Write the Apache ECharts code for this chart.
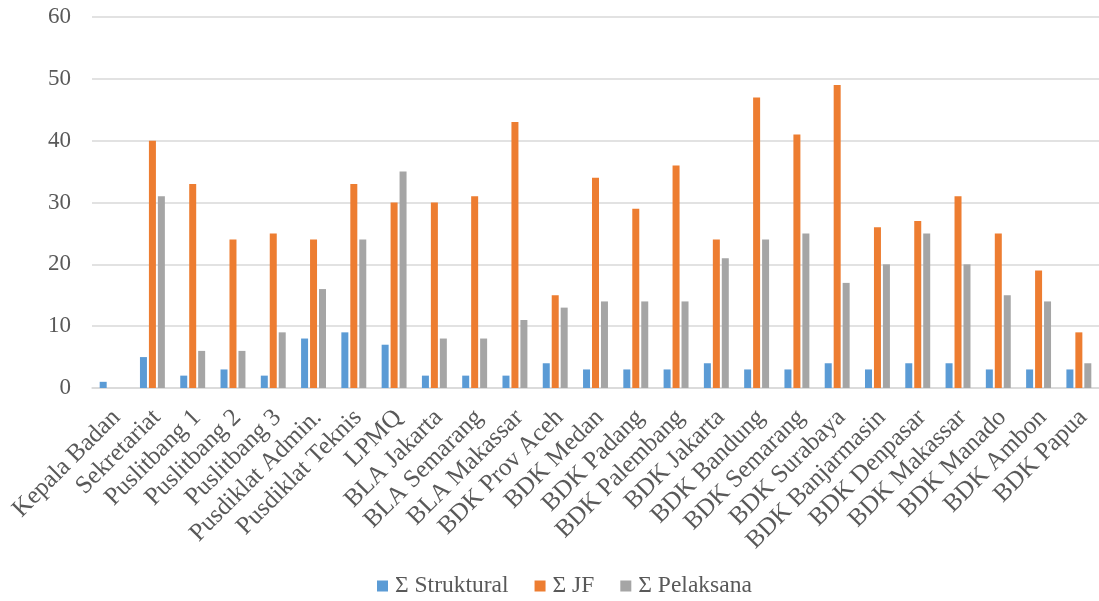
<!DOCTYPE html>
<html>
<head>
<meta charset="utf-8">
<script src="https://cdn.jsdelivr.net/npm/echarts@6/dist/echarts.min.js"></script>
<style>
html,body{margin:0;padding:0;background:#fff;}
#chart{width:1099px;height:601px;}
</style>
</head>
<body>
<div id="chart"></div>
<script>
var categories = ["Kepala Badan","Sekretariat","Puslitbang 1","Puslitbang 2","Puslitbang 3","Pusdiklat Admin.","Pusdiklat Teknis","LPMQ","BLA Jakarta","BLA Semarang","BLA Makassar","BDK Prov Aceh","BDK Medan","BDK Padang","BDK Palembang","BDK Jakarta","BDK Bandung","BDK Semarang","BDK Surabaya","BDK Banjarmasin","BDK Denpasar","BDK Makassar","BDK Manado","BDK Ambon","BDK Papua"];
var struktural = [1,5,2,3,2,8,9,7,2,2,2,4,3,3,3,4,3,3,4,3,4,4,3,3,3];
var jf = [0,40,33,24,25,24,33,30,30,31,43,15,34,29,36,24,47,41,49,26,27,31,25,19,9];
var pelaksana = [0,31,6,6,9,16,24,35,8,8,11,13,14,14,14,21,24,25,17,20,25,20,15,14,4];
var seriesNames = ["Σ Struktural","Σ JF","Σ Pelaksana"];
var yTicks = {min:0, max:60, interval:10};

var font = "'Liberation Serif','Times New Roman',serif";
var txt = '#595959';
var chart = echarts.init(document.getElementById('chart'));
function bar(name, data, color){
  return {name:name, type:'bar', data:data, barWidth:7, barGap:'28%',
    itemStyle:{color:color}};
}
chart.setOption({
  animation:false,
  grid:{left:92, top:17, width:1010, bottom:213},
  legend:{left:377, top:574, padding:0, itemWidth:11, itemHeight:11, itemGap:26, icon:'rect',
    textStyle:{fontFamily:font, fontSize:23.5, color:txt, padding:[0,0,0,2]},
    data:seriesNames},
  xAxis:{type:'category', data:categories,
    axisLine:{lineStyle:{color:'#d9d9d9', width:1.5}},
    axisTick:{show:false},
    axisLabel:{rotate:45, interval:0, margin:30, padding:[0,-6,0,0], fontFamily:font, fontSize:25, color:txt}},
  yAxis:{type:'value', min:yTicks.min, max:yTicks.max, interval:yTicks.interval,
    axisLine:{show:false}, axisTick:{show:false},
    splitLine:{lineStyle:{color:'#d9d9d9', width:1.5}},
    axisLabel:{margin:21, fontFamily:font, fontSize:23, color:txt}},
  series:[
    bar(seriesNames[0], struktural, '#5B9BD5'),
    bar(seriesNames[1], jf, '#ED7D31'),
    bar(seriesNames[2], pelaksana, '#A5A5A5')
  ]
});
</script>
</body>
</html>
